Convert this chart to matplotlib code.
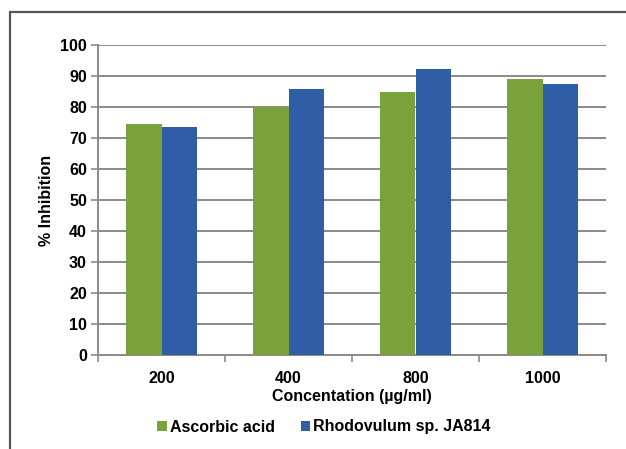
import numpy as np
import matplotlib
matplotlib.use("Agg")
import matplotlib.pyplot as plt
from matplotlib.patches import Rectangle

plt.rcParams['font.family'] = ['Liberation Sans', 'DejaVu Sans']

# data
concentrations = ['200', '400', '800', '1000']
ascorbic = [74.5, 80.0, 85.0, 89.0]
rhodovulum = [73.5, 85.7, 92.2, 87.3]
series_names = ['Ascorbic acid', 'Rhodovulum sp. JA814']

GREEN = '#7aa23a'
BLUE = '#2f5ea6'
GRID = '#8a8a8a'
FS = 11.5

W, H = 626, 449
fig = plt.figure(figsize=(W / 100, H / 100), dpi=100)
ax = fig.add_axes([98 / W, 1 - 355 / H, 508 / W, 310 / H])

# outer frame (only left and top edges are visible)
frame = Rectangle((10 / W, -0.1), 1.2, 1 - 12 / H + 0.1, transform=fig.transFigure,
                  fill=False, edgecolor='#555555', linewidth=1.6, zorder=0)
fig.patches.append(frame)

x = np.arange(len(concentrations))
bw = 0.283
ax.bar(x - bw / 2, ascorbic, bw, color=GREEN, label=series_names[0], zorder=3)
ax.bar(x + bw / 2, rhodovulum, bw, color=BLUE, label=series_names[1], zorder=3)

ax.set_xlim(-0.5, len(concentrations) - 0.5)
ax.set_ylim(0, 100)
ax.set_yticks(range(0, 101, 10))
ax.yaxis.grid(True, color=GRID, linewidth=1.4, zorder=0)
ax.set_axisbelow(True)

ax.set_xticks(x)
ax.set_xticklabels(concentrations, fontsize=FS, fontweight='bold')
ax.set_xticks(np.arange(-0.5, len(concentrations)), minor=True)
ax.tick_params(axis='x', which='major', length=0, pad=11.5)
ax.tick_params(axis='x', which='minor', length=5, color=GRID, width=1.2)
ax.tick_params(axis='y', length=5, color=GRID, width=1.2, labelsize=FS, pad=3)
for lab in ax.get_yticklabels():
    lab.set_fontweight('bold')

for s in ['top', 'right']:
    ax.spines[s].set_visible(False)
for s in ['left', 'bottom']:
    ax.spines[s].set_color(GRID)
    ax.spines[s].set_linewidth(1.4)

ax.set_ylabel('% Inhibition', fontsize=FS, fontweight='bold')
ax.yaxis.set_label_coords((54 - 98) / 508, 0.5)
ax.set_xlabel('Concentation (\u00b5g/ml)', fontsize=FS, fontweight='bold', labelpad=2)

fig.legend(*ax.get_legend_handles_labels(), loc='center',
           bbox_to_anchor=(324 / W, 1 - 427 / H), ncol=2, frameon=False,
           prop={'weight': 'bold', 'size': FS}, handlelength=0.6, handleheight=0.6,
           handletextpad=0.2, columnspacing=1.6)

fig.savefig('out.png', dpi=100)
